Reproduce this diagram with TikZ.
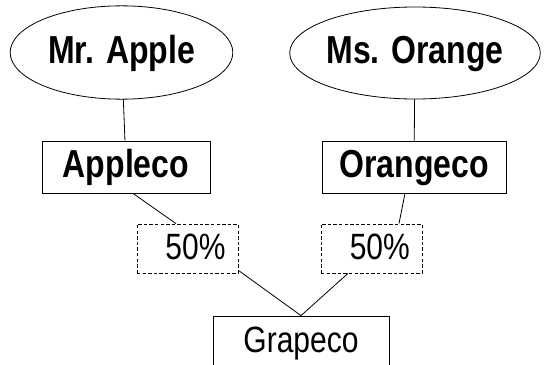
\documentclass[tikz,border=0pt]{standalone}
\usepackage{fontspec}
\usepackage{graphicx}
\setmainfont{Liberation Sans}
\usetikzlibrary{shapes.geometric}

\newcommand{\tall}[1]{\scalebox{1}[1.22]{#1}}

\begin{document}
\begin{tikzpicture}[
  x=0.75pt, y=-0.75pt,
  line width=0.6pt,
  person/.style={draw, ellipse, inner sep=0pt, text height=15.75pt, text depth=0pt,
                 font=\fontsize{24}{28}\selectfont\bfseries},
  firm/.style={draw, rectangle, inner sep=0pt, minimum height=39pt,
               text height=15.75pt, text depth=0pt,
               font=\fontsize{24}{28}\selectfont\bfseries},
  share/.style={draw, dashed, dash pattern=on 2.6pt off 1.6pt,
                line width=0.5pt, inner sep=0pt,
                text height=16.5pt, text depth=0pt,
                minimum width=75.75pt, minimum height=36.75pt,
                font=\fontsize{22.5}{26}\selectfont}
]
\useasboundingbox (0,0) rectangle (549,364);

% owners
\node[person, minimum width=167pt, minimum height=70pt] (apple)  at (121.5,52.5) {\tall{Mr. Apple}};
\node[person, minimum width=163pt, minimum height=69pt] (orange) at (415,53)     {\tall{Ms. Orange}};

% holding companies
\node[firm, minimum width=126pt] (appleco)  at (126,167) {\tall{Appleco}};
\node[firm, minimum width=138pt] (orangeco) at (414,167) {\tall{Orangeco}};

% shares
\node[share] (shareA) at (187.5,248.5) {\hspace{12pt}\tall{50\%}};
\node[share] (shareB) at (371.5,248.5) {\hspace{12.5pt}\tall{50\%}};

% joint company
\node[firm, minimum width=132pt, font=\fontsize{22.5}{26}\selectfont] (grapeco) at (301,342) {\tall{Grapeco}};

\draw (apple) -- (appleco);
\draw (orange) -- (orangeco);
\draw ([xshift=5.25pt]appleco.south) -- ([xshift=-8.6pt]shareA.north);
\draw ([xshift=-6.75pt]orangeco.south) -- ([xshift=20.6pt]shareB.north);
\draw ([yshift=2.25pt]shareA.south east) -- (grapeco.north);
\draw ([xshift=-17.6pt]shareB.south) -- (grapeco.north);
\end{tikzpicture}
\end{document}
